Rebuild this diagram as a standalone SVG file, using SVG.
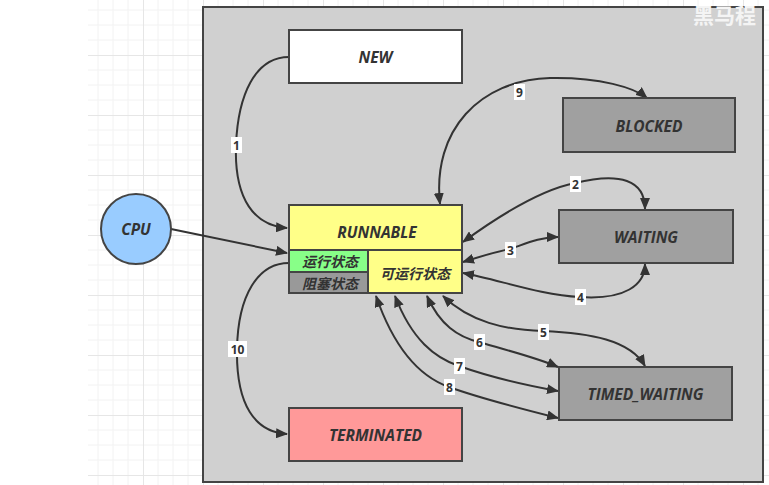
<svg xmlns="http://www.w3.org/2000/svg" width="769" height="485" viewBox="0 0 769 485">
<style>
.node{stroke:#444;stroke-width:2}
.t{font-family:"Open Sans","Liberation Sans",sans-serif;font-weight:bold;font-style:italic;font-size:15.5px;fill:#333;text-anchor:middle;dominant-baseline:central}
.cn{font-family:"Noto Sans CJK SC",sans-serif;font-weight:bold;font-style:italic;font-size:14px;fill:#333;text-anchor:middle;dominant-baseline:central}
.e{fill:none;stroke:#333;stroke-width:2}
.lb{fill:#fff}
.lt{font-family:"Open Sans","Liberation Sans",sans-serif;font-weight:bold;font-size:12px;fill:#333;text-anchor:middle;dominant-baseline:central}
</style>
<defs>
<pattern id="grid" patternUnits="userSpaceOnUse" x="143" y="55" width="60" height="60">
<path d="M15 0V60M30 0V60M45 0V60M0 15H60M0 30H60M0 45H60" stroke="#f2f2f2" stroke-width="1" fill="none"/>
<path d="M0.5 0V60M0 0.5H60" stroke="#e6e6e6" stroke-width="1" fill="none"/>
</pattern>
<marker id="ah" viewBox="0 0 12 10" refX="11" refY="5" markerWidth="12" markerHeight="10" markerUnits="userSpaceOnUse" orient="auto-start-reverse">
<path d="M0 0L12 5L0 10Z" fill="#333"/>
</marker>
</defs>
<rect width="769" height="485" fill="#fff"/>
<rect x="88" y="0" width="681" height="485" fill="url(#grid)"/>
<rect id="container" x="203" y="7" width="560" height="475" fill="#d0d0d0" stroke="#444" stroke-width="2"/>
<text x="693" y="14" font-family="Noto Sans CJK SC,sans-serif" font-size="21" font-weight="bold" fill="#f4f4f4" dominant-baseline="central">黑马程</text>
<g id="connectors">
<path class="e" d="M289,57 C255,57 238,95 236,145 C234,200 255,226 287,228" marker-end="url(#ah)"/>
<path class="e" d="M289,263 C258,263 238,295 237,349 C236,405 255,432 287,434" marker-end="url(#ah)"/>
<path class="e" d="M171,229 L287,253" marker-end="url(#ah)"/>
<path class="e" d="M440,204 C432,130 480,80 550,78 C600,77 635,88 647,98" marker-start="url(#ah)" marker-end="url(#ah)"/>
<path class="e" d="M463,242 C500,215 540,190 575,183 C620,172 645,180 645,209" marker-start="url(#ah)" marker-end="url(#ah)"/>
<path class="e" d="M463,262 C485,255 495,252 510,249 C525,244 540,237 558,237" marker-start="url(#ah)" marker-end="url(#ah)"/>
<path class="e" d="M463,273 C500,280 540,295 580,297 C625,300 645,285 645,264" marker-start="url(#ah)" marker-end="url(#ah)"/>
<path class="e" d="M443,296 C470,322 505,330 543,331 C590,333 630,340 645,366" marker-start="url(#ah)" marker-end="url(#ah)"/>
<path class="e" d="M427,296 C440,325 458,337 479,342 C505,350 535,357 558,367" marker-start="url(#ah)" marker-end="url(#ah)"/>
<path class="e" d="M395,296 C412,340 435,358 459,366 C490,377 530,386 558,391" marker-start="url(#ah)" marker-end="url(#ah)"/>
<path class="e" d="M376,296 C393,345 418,376 449,387 C482,399 530,411 558,418" marker-start="url(#ah)" marker-end="url(#ah)"/>
<rect class="lb" x="231" y="137" width="11" height="16"/><text class="lt" x="236.5" y="145">1</text>
<rect class="lb" x="228" y="341" width="19" height="16"/><text class="lt" x="237.5" y="349">10</text>
<rect class="lb" x="514" y="84" width="11" height="16"/><text class="lt" x="519.5" y="92">9</text>
<rect class="lb" x="570" y="176" width="11" height="16"/><text class="lt" x="575.5" y="184">2</text>
<rect class="lb" x="505" y="242" width="11" height="16"/><text class="lt" x="510.5" y="250">3</text>
<rect class="lb" x="575" y="289" width="11" height="16"/><text class="lt" x="580.5" y="297">4</text>
<rect class="lb" x="538" y="324" width="11" height="16"/><text class="lt" x="543.5" y="332">5</text>
<rect class="lb" x="474" y="334" width="11" height="16"/><text class="lt" x="479.5" y="342">6</text>
<rect class="lb" x="454" y="358" width="11" height="16"/><text class="lt" x="459.5" y="366">7</text>
<rect class="lb" x="444" y="379" width="11" height="16"/><text class="lt" x="449.5" y="387">8</text>
</g>
<g id="new"><rect class="node" x="289" y="30" width="173" height="53" fill="#fff"/><text class="t" x="375.5" y="57">NEW</text></g>
<g id="blocked"><rect class="node" x="563" y="98" width="172" height="54" fill="#a0a0a0"/><text class="t" x="649" y="126">BLOCKED</text></g>
<g id="waiting"><rect class="node" x="559" y="210" width="174" height="53" fill="#a0a0a0"/><text class="t" x="646" y="237">WAITING</text></g>
<g id="timed_waiting"><rect class="node" x="559" y="367" width="173" height="53" fill="#a0a0a0"/><text class="t" x="645.5" y="394">TIMED_WAITING</text></g>
<g id="terminated"><rect class="node" x="289" y="408" width="173" height="53" fill="#ff9999"/><text class="t" x="375.5" y="435">TERMINATED</text></g>
<g id="cpu"><circle class="node" cx="136" cy="229" r="35" fill="#99ccff"/><text class="t" x="136" y="229">CPU</text></g>
<g id="runnable">
<rect class="node" x="289" y="205" width="173" height="88" fill="#ffff88"/>
<text class="t" x="377" y="232">RUNNABLE</text>
<line class="node" x1="289" y1="250" x2="462" y2="250"/>
<g id="running"><rect class="node" x="289" y="250" width="79" height="22" fill="#88ff88"/><text class="cn" x="330" y="261">运行状态</text></g>
<g id="blocked_state"><rect class="node" x="289" y="272" width="79" height="21" fill="#999"/><text class="cn" x="330" y="283">阻塞状态</text></g>
<g id="ready"><text class="cn" x="415" y="273">可运行状态</text></g>
</g>
</svg>
